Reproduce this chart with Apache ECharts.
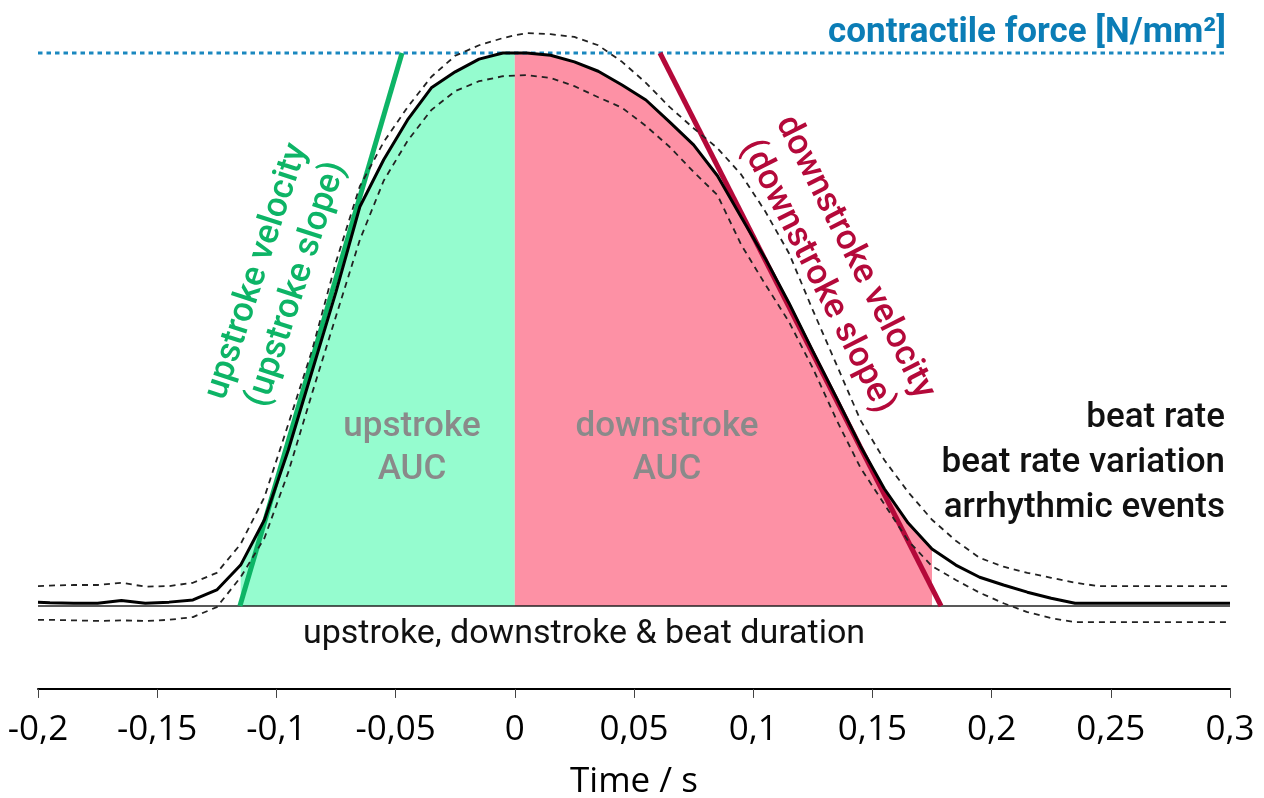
<!DOCTYPE html>
<html>
<head>
<meta charset="utf-8">
<script src="https://cdn.jsdelivr.net/npm/echarts@6/dist/echarts.min.js"></script>
<style>
html,body{margin:0;padding:0;background:#fff;}
#chart{width:1264px;height:798px;}
</style>
</head>
<body>
<div id="chart"></div>
<script>
// ---- data ----
const timeS = [-0.2,-0.195,-0.185,-0.175,-0.165,-0.155,-0.145,-0.135,-0.125,-0.115,-0.105,-0.095,-0.085,-0.075,-0.065,-0.055,-0.045,-0.035,-0.025,-0.015,-0.005,0,0.005,0.015,0.025,0.035,0.045,0.055,0.065,0.075,0.085,0.095,0.105,0.115,0.125,0.135,0.145,0.155,0.165,0.175,0.185,0.195,0.205,0.215,0.225,0.235,0.245,0.255,0.265,0.275,0.285,0.295,0.3];
const meanForce = [0.007,0.006,0.005,0.005,0.010,0.005,0.007,0.011,0.029,0.074,0.156,0.282,0.425,0.568,0.722,0.807,0.879,0.937,0.966,0.989,1.000,1.000,1.000,0.996,0.984,0.967,0.942,0.915,0.875,0.834,0.778,0.703,0.629,0.548,0.461,0.376,0.289,0.212,0.150,0.103,0.074,0.052,0.038,0.025,0.014,0.005,0.005,0.005,0.005,0.005,0.005,0.005,0.005];
const upperSD = [0.036,0.037,0.038,0.038,0.042,0.035,0.036,0.042,0.060,0.112,0.197,0.329,0.463,0.622,0.759,0.839,0.902,0.957,0.995,1.014,1.027,1.032,1.036,1.034,1.029,1.014,0.984,0.946,0.902,0.864,0.828,0.780,0.714,0.638,0.535,0.436,0.336,0.264,0.206,0.156,0.118,0.087,0.071,0.060,0.051,0.042,0.036,0.036,0.036,0.036,0.036,0.036,0.036];
const lowerSD = [-0.025,-0.025,-0.026,-0.027,-0.026,-0.027,-0.025,-0.020,-0.002,0.052,0.123,0.242,0.385,0.524,0.662,0.769,0.841,0.897,0.931,0.949,0.958,0.959,0.960,0.955,0.940,0.920,0.901,0.868,0.830,0.785,0.743,0.653,0.582,0.514,0.430,0.336,0.250,0.184,0.118,0.072,0.047,0.024,0.005,-0.011,-0.022,-0.029,-0.029,-0.029,-0.029,-0.029,-0.029,-0.029,-0.029];
const upstrokeRange = [-0.115, 0];
const downstrokeRange = [0, 0.175];
const upSlopeLine = [[-0.1153, 0], [-0.0473, 1]];
const downSlopeLine = [[0.0609, 1], [0.1788, 0]];
const forceLevel = [[-0.2, 1], [0.2987, 1]];
const baseLevel = [[-0.2, 0], [0.3, 0]];
const tickLabels = ['-0,2','-0,15','-0,1','-0,05','0','0,05','0,1','0,15','0,2','0,25','0,3'];

// ---- build ----
const pairs = (ys) => timeS.map((t, i) => [t, ys[i]]);
const slicePairs = (ys, r) => timeS.map((t, i) => [t, ys[i]]).filter(p => p[0] >= r[0] - 1e-9 && p[0] <= r[1] + 1e-9);

const chart = echarts.init(document.getElementById('chart'), null, {renderer: 'canvas'});
const option = {
  animation: false,
  backgroundColor: '#ffffff',
  grid: {left: 38, right: 34, top: 3.23, bottom: 109.05, containLabel: false, outerBoundsMode: 'none'},
  xAxis: {
    type: 'value', min: -0.2, max: 0.3, interval: 0.05,
    name: 'Time / s', nameLocation: 'middle', nameGap: 76,
    nameTextStyle: {fontFamily: 'Open Sans', fontSize: 35, color: '#000'},
    axisLine: {show: true, onZero: false, lineStyle: {color: '#000', width: 2}},
    axisTick: {show: true, length: 9, lineStyle: {color: '#444', width: 1}},
    axisLabel: {fontFamily: 'Open Sans', fontSize: 35, color: '#000', margin: 24,
      formatter: (v) => tickLabels[Math.round((v + 0.2) / 0.05)]},
    splitLine: {show: false}
  },
  yAxis: {type: 'value', min: -0.15, max: 1.09, show: false, splitLine: {show: false}},
  series: [
    {type: 'line', name: 'upstroke AUC', data: slicePairs(meanForce, upstrokeRange), symbol: 'none',
      lineStyle: {width: 0}, areaStyle: {color: '#95fccf', opacity: 1}, z: 1, silent: true},
    {type: 'line', name: 'downstroke AUC', data: slicePairs(meanForce, downstrokeRange), symbol: 'none',
      lineStyle: {width: 0}, areaStyle: {color: '#fd91a5', opacity: 1}, z: 1, silent: true},
    {type: 'line', name: 'baseline', data: baseLevel, symbol: 'none',
      lineStyle: {color: '#222', width: 1.6}, z: 2},
    {type: 'line', name: 'contractile force', data: forceLevel, symbol: 'none',
      lineStyle: {color: '#1a88bf', width: 3, type: [4.5, 4]}, z: 2},
    {type: 'line', name: 'upstroke slope', data: upSlopeLine, symbol: 'none',
      lineStyle: {color: '#0db466', width: 5}, z: 3},
    {type: 'line', name: 'downstroke slope', data: downSlopeLine, symbol: 'none',
      lineStyle: {color: '#b4093a', width: 5}, z: 3},
    {type: 'line', name: '+SD', data: pairs(upperSD), symbol: 'none', clip: false,
      lineStyle: {color: '#222', width: 1.8, type: [6, 5]}, z: 4},
    {type: 'line', name: '-SD', data: pairs(lowerSD), symbol: 'none', clip: false,
      lineStyle: {color: '#222', width: 1.8, type: [6, 5]}, z: 4},
    {type: 'line', name: 'mean', data: pairs(meanForce), symbol: 'none', clip: false,
      lineStyle: {color: '#000', width: 3}, z: 5}
  ],
  graphic: [
    {type: 'text', x: 1226, y: 33, style: {text: 'contractile force [N/mm²]', font: 'bold 35px Roboto', fill: '#0b7db6', textAlign: 'right', textVerticalAlign: 'middle'}, z: 10},
    {type: 'text', x: 277, y: 278, rotation: 72 * Math.PI / 180, style: {text: 'upstroke velocity\n(upstroke slope)', font: '500 35px Roboto', fill: '#0db466', textAlign: 'center', textVerticalAlign: 'middle', lineHeight: 42}, z: 10},
    {type: 'text', x: 836, y: 267, rotation: -63 * Math.PI / 180, style: {text: 'downstroke velocity\n(downstroke slope)', font: '500 35px Roboto', fill: '#b4093a', textAlign: 'center', textVerticalAlign: 'middle', lineHeight: 42}, z: 10},
    {type: 'text', x: 412, y: 449, style: {text: 'upstroke\nAUC', font: '500 35px Roboto', fill: '#8a8a8a', textAlign: 'center', textVerticalAlign: 'middle', lineHeight: 43}, z: 10},
    {type: 'text', x: 667, y: 449, style: {text: 'downstroke\nAUC', font: '500 35px Roboto', fill: '#8a8a8a', textAlign: 'center', textVerticalAlign: 'middle', lineHeight: 43}, z: 10},
    {type: 'text', x: 1225, y: 463, style: {text: 'beat rate\nbeat rate variation\narrhythmic events', font: '500 35px Roboto', fill: '#111', textAlign: 'right', textVerticalAlign: 'middle', lineHeight: 45}, z: 10},
    {type: 'text', x: 584, y: 634, style: {text: 'upstroke, downstroke & beat duration', font: '34px Roboto', fill: '#111', textAlign: 'center', textVerticalAlign: 'middle'}, z: 10}
  ]
};
chart.setOption(option);
</script>
</body>
</html>
